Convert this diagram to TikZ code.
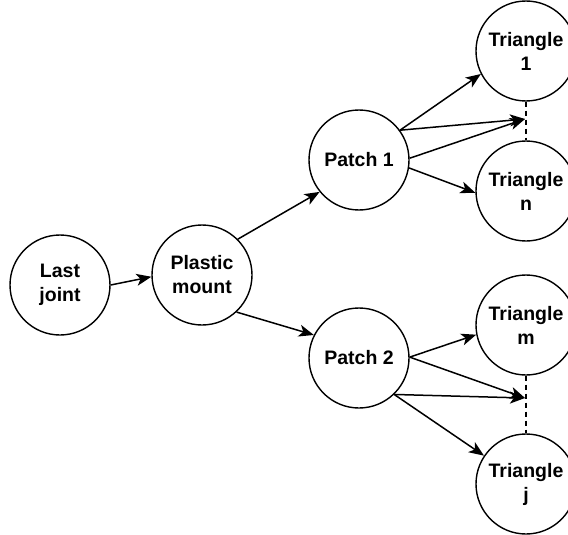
\documentclass[tikz,border=0pt]{standalone}
\usepackage{fontspec}
\setmainfont{Liberation Sans}
\usetikzlibrary{arrows.meta}
\begin{document}
\begin{tikzpicture}[x=1pt,y=-1pt,
  bub/.style={circle,draw,line width=1.4pt,minimum size=100pt,inner sep=0pt,align=center,font=\bfseries\fontsize{19.5}{24}\selectfont},
  arr/.style={line width=1.5pt,-{Stealth[length=15pt,width=12pt,inset=4pt]}},
  dsh/.style={line width=1.4pt,dash pattern=on 5pt off 4pt}]
\useasboundingbox (0,0) rectangle (568,535);
\node[bub] (lj) at (60,285) {Last\\joint};
\node[bub] (pm) at (202,275) {Plastic\\mount};
\node[bub] (p1) at (359,160) {Patch 1};
\node[bub] (p2) at (359,358) {Patch 2};
\node[bub] (t1) at (526,51) {Triangle\\1};
\node[bub] (tn) at (526,191) {Triangle\\n};
\node[bub] (tm) at (526,325) {Triangle\\m};
\node[bub] (tj) at (526,484) {Triangle\\j};
\coordinate (c1) at (525,119);
\coordinate (c2) at (525,398);
\draw[arr] (lj.0) -- (pm.182);
\draw[arr] (pm.45) -- (p1.219);
\draw[arr] (pm.-47) -- (p2.153);
\draw[arr] (p1.36) -- (t1.207);
\draw[arr] (p1.36) -- (c1);
\draw[arr] (p1.2) -- (c1);
\draw[arr] (p1.-9) -- (tn.182);
\draw[arr] (p2.1) -- (tm.191);
\draw[arr] (p2.1) -- (c2);
\draw[arr] (p2.-46) -- (c2);
\draw[arr] (p2.-46) -- (tj.146);
\draw[dsh] (t1.south) -- (tn.north);
\draw[dsh] (tm.south) -- (tj.north);
\end{tikzpicture}
\end{document}
